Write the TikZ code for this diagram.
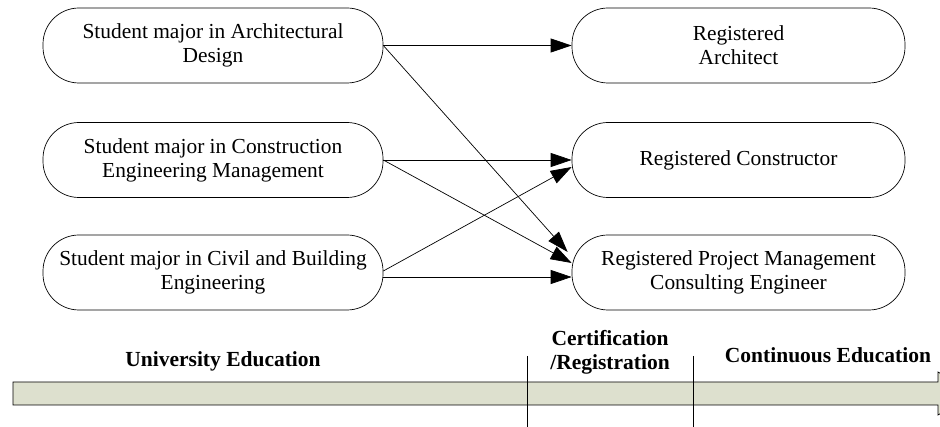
\documentclass[tikz,border=0pt]{standalone}
\usepackage{fontspec}
\setmainfont{Liberation Serif}
\usetikzlibrary{arrows.meta,calc}
\definecolor{barfill}{RGB}{221,224,206}
\tikzset{
  stadium/.style={draw, line width=0.7pt, rounded corners=36pt,
    minimum width=340pt, minimum height=75pt, align=center,
    font=\fontsize{21.4}{24}\selectfont},
  flow/.style={line width=0.7pt, -{Triangle[length=21pt,width=14pt]}},
  phase/.style={font=\bfseries\fontsize{21.5}{24}\selectfont, align=center},
  divider/.style={line width=0.7pt},
}
\begin{document}
\begin{tikzpicture}[x=1pt,y=-1pt]
\useasboundingbox (0,0) rectangle (940,427);
\clip (0,0) rectangle (940,427);

% study programmes
\node[stadium] (a1) at (213,45.5) {Student major in Architectural\\Design};
\node[stadium] (a2) at (213,160) {Student major in Construction\\Engineering Management};
\node[stadium] (a3) at (213,272.5) {Student major in Civil and Building\\Engineering};

% professional qualifications
\node[stadium, minimum width=333pt] (r1) at (738.5,45.5) {Registered\\Architect};
\node[stadium, minimum width=333pt] (r2) at (738.5,160) {Registered Constructor};
\node[stadium, minimum width=333pt] (r3) at (738.5,272.5) {Registered Project Management\\Consulting Engineer};

% pathways
\draw[flow] (a1.east) -- (r1.west);
\draw[flow] (a1.east) -- ($(r3.west)+(-4,-20.5)$);
\draw[flow] (a2.east) -- (r2.west);
\draw[flow] (a2.east) -- ($(r3.west)+(0,-9.5)$);
\draw[flow] ($(a3.east)+(0,-1.5)$) -- ($(r2.west)+(0,7)$);
\draw[flow] ($(a3.east)+(0,4.5)$) -- ($(r3.west)+(0,4.5)$);

% time line
\path[draw, line width=0.7pt, fill=barfill]
  (13,382) -- (938,382) -- (938,372) -- (975,393.5) -- (938,415)
  -- (938,405) -- (13,405) -- cycle;
\coordinate (d1top) at (527,356);
\coordinate (d1bot) at (527,427);
\coordinate (d2top) at (693,356);
\coordinate (d2bot) at (693,427);
\draw[divider] (d1top) -- (d1bot);
\draw[divider] (d2top) -- (d2bot);

\node[phase] (p1) at (223,361) {University Education};
\node[phase] (p2) at (610,352) {Certification\\/Registration};
\node[phase] (p3) at (828,355) {Continuous Education};
\end{tikzpicture}
\end{document}
